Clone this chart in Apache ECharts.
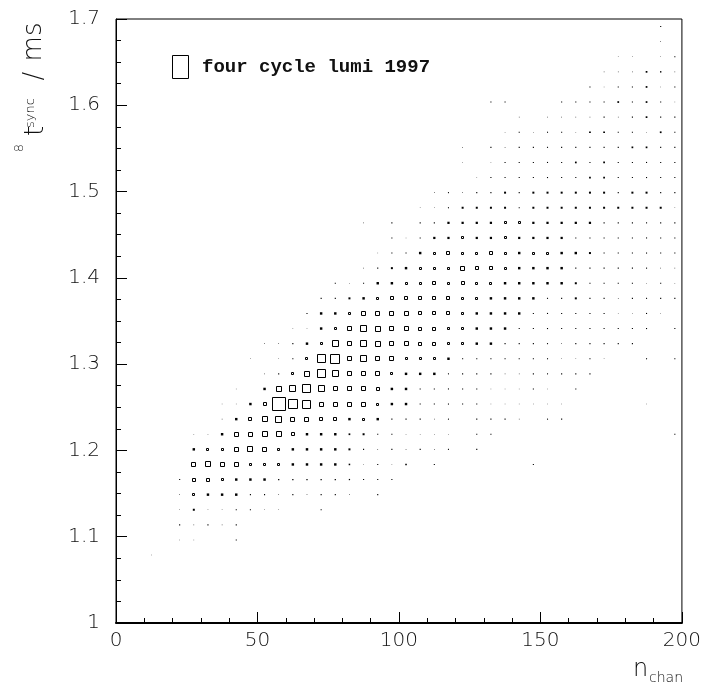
<!DOCTYPE html>
<html>
<head>
<meta charset="utf-8">
<script src="https://cdn.jsdelivr.net/npm/echarts@6/dist/echarts.min.js"></script>
<style>
html,body{margin:0;padding:0;background:#fff;}
#chart{width:704px;height:691px;}
</style>
</head>
<body>
<div id="chart"></div>
<script>
// Histogram binning (n_chan on x, 8t_sync on y)
const nchanLow = 0, nchanHigh = 200, nchanBinWidth = 5;
const tsyncLow = 1.0, tsyncHigh = 1.7, tsyncBinWidth = 0.0175;

// Tick labels
const xTickValues = [0, 50, 100, 150, 200];
const yTickValues = [1, 1.1, 1.2, 1.3, 1.4, 1.5, 1.6, 1.7];

// Legend text
const legendText = 'four cycle lumi 1997';

// Cell contents, one row per t_sync bin (bottom to top).
// rowFirstBin[j] = index of the first n_chan bin listed in rowCounts[j]
const rowFirstBin = [0,0,0,0,2,4,4,4,4,4,5,5,5,7,7,8,10,9,10,12,13,14,15,17,18,19,17,21,22,25,24,24,27,28,26,33,34,35,38,38];
const rowCounts = [
  [], [], [], [],
  [2],
  [2,2,0,0,6],
  [6,2,6,2,6],
  [2,20,2,2,6,6,2,2,0,0,6],
  [2,55,30,30,30,6,6,2,6,2,6,6,2,0,6],
  [6,80,80,60,30,30,30,8,8,8,8,8,8,6,6,6],
  [125,180,110,125,60,60,60,30,30,30,30,12,2,6,2,12,0,6,0,0,0,0,0,0,6],
  [30,60,60,125,170,110,60,30,30,30,30,20,6,2,6,2,6,2,6,0,6],
  [2,2,30,125,125,160,160,80,30,30,30,15,20,6,6,2,2,2,2,0,6,6,0,0,0,0,0,0,0,0,0,0,0,0,6],
  [2,30,80,170,230,125,125,80,70,30,60,30,6,6,6,2,6,0,6,6,6,2,0,6,6],
  [2,2,30,80,1000,500,405,125,125,110,125,60,30,30,6,6,6,6,6,2,2,2,2,2,2,0,0,0,0,0,2],
  [2,0,30,160,245,405,245,125,110,125,80,30,30,6,6,6,6,6,2,2,2,6,2,0,6],
  [2,6,60,160,405,245,150,125,110,60,30,30,30,6,6,6,6,2,2,6,6,6,6,6],
  [2,0,2,6,60,405,500,150,245,110,110,60,60,60,30,6,6,6,6,6,6,6,2,2,6,2,0,0,6,0,6],
  [2,2,6,30,60,245,150,245,180,110,110,80,80,60,60,30,30,6,6,6,6,2,6,6,6,6,6],
  [2,2,30,60,150,245,180,110,110,80,80,60,60,30,30,30,6,6,6,6,6,6,6,6,6,6,0,6],
  [6,30,30,60,110,110,150,110,80,80,80,60,30,30,30,30,6,6,6,6,6,6,2,2,6,2],
  [6,6,20,30,60,80,80,80,80,80,60,60,30,30,30,30,6,6,20,6,6,2,6,6,6,6],
  [6,2,6,30,30,60,60,80,60,80,60,60,30,30,30,30,30,20,6,6,6,6,2,6,2],
  [2,6,20,30,60,60,60,110,80,80,60,30,30,30,30,6,6,6,6,6,6,2,2],
  [2,6,6,30,60,80,60,60,80,60,30,60,60,30,30,20,6,6,6,6,6,6],
  [6,2,6,25,25,55,25,25,55,25,25,25,25,6,6,6,6,6,6,6,6],
  [2,0,6,0,6,6,25,25,25,25,55,55,25,25,25,25,25,6,6,6,6,6,6],
  [2,2,6,20,20,20,20,6,20,20,20,20,20,20,20,20,20,20,2],
  [2,6,2,6,6,20,6,20,20,20,20,20,20,6,20,20,6,6],
  [2,6,6,6,6,6,6,6,15,15,6,6,6,6,6],
  [2,0,2,6,6,6,6,6,15,6,15,6,6,6,6,6],
  [2,0,6,2,6,6,6,6,6,6,6,6,15,15,6,6],
  [2,6,2,6,6,2,15,15,6,6,2,15,6],
  [2,0,2,2,2,2,6,2,6,15,6,6],
  [6,6,0,0,0,6,6,6,6,15,6,15,6,2],
  [6,2,6,6,15,2,6],
  [2,2,2,15,10,2],
  [2,2,0,2,6],
  [2],
  [6]
];

// Build cell list [x centre, y centre, content]
const cells = [];
rowCounts.forEach(function (row, j) {
  row.forEach(function (v, k) {
    if (v > 0) {
      const i = rowFirstBin[j] + k;
      cells.push([nchanLow + (i + 0.5) * nchanBinWidth, tsyncLow + (j + 0.5) * tsyncBinWidth, v]);
    }
  });
});
const maxCount = Math.max.apply(null, cells.map(function (c) { return c[2]; }));

const FONT = 'DejaVu Sans';
const chart = echarts.init(document.getElementById('chart'), null, {renderer: 'canvas'});

const option = {
  backgroundColor: '#ffffff',
  animation: false,
  grid: {left: 116, top: 19, width: 566, height: 604, show: true, borderColor: '#000', borderWidth: 1, backgroundColor: 'transparent'},
  xAxis: {
    type: 'value', min: nchanLow, max: nchanHigh, interval: 50,
    axisLine: {show: true, lineStyle: {color: '#000', width: 2}},
    axisTick: {show: true, inside: true, length: 11, lineStyle: {color: '#000', width: 1}},
    minorTick: {show: true, splitNumber: 5, length: 5, lineStyle: {color: '#000', width: 1}},
    splitLine: {show: false},
    axisLabel: {
      margin: 8, color: '#111', fontFamily: FONT, fontWeight: 200, fontSize: 20,
      formatter: function (v) { return xTickValues.indexOf(v) >= 0 ? String(v) : ''; }
    }
  },
  yAxis: {
    type: 'value', min: tsyncLow, max: tsyncHigh, interval: 0.1,
    axisLine: {show: true, lineStyle: {color: '#000', width: 1}},
    axisTick: {show: true, inside: true, length: 11, lineStyle: {color: '#000', width: 1}},
    minorTick: {show: true, splitNumber: 4, length: 5, lineStyle: {color: '#000', width: 1}},
    splitLine: {show: false},
    axisLabel: {
      margin: 16, color: '#111', fontFamily: FONT, fontWeight: 200, fontSize: 20,
      formatter: function (v) {
        const r = Math.round(v * 10) / 10;
        return yTickValues.indexOf(r) >= 0 ? String(r) : '';
      }
    }
  },
  series: [{
    type: 'custom',
    coordinateSystem: 'cartesian2d',
    silent: true,
    clip: true,
    data: cells,
    encode: {x: 0, y: 1},
    renderItem: function (params, api) {
      const c = api.coord([api.value(0), api.value(1)]);
      const cell = api.size([nchanBinWidth, tsyncBinWidth]);
      const s = Math.min(cell[0], cell[1]) * Math.sqrt(api.value(2) / maxCount);
      if (s < 3) {
        return {type: 'rect', shape: {x: c[0] - s / 2, y: c[1] - s / 2, width: s, height: s}, style: {fill: '#000'}};
      }
      const size = Math.round(s);
      const left = Math.round(c[0] - size / 2);
      const top = Math.round(c[1] - size / 2);
      return {type: 'rect', shape: {x: left + 0.5, y: top + 0.5, width: size - 1, height: size - 1},
              style: {fill: 'none', stroke: '#000', lineWidth: 1}};
    }
  }],
  graphic: [
    {type: 'rect', shape: {x: 172.5, y: 55.5, width: 16, height: 23}, style: {fill: 'none', stroke: '#000', lineWidth: 1}},
    {type: 'text', x: 202, y: 67, style: {text: legendText, fill: '#111', font: 'bold 19px "Liberation Mono", "Courier New", monospace', align: 'left', verticalAlign: 'middle'}},
    // x axis title  n_chan
    {type: 'text', x: 640.5, y: 669.5, style: {text: 'n', fill: '#111', font: '200 24px "DejaVu Sans"', align: 'center', verticalAlign: 'middle'}},
    {type: 'text', x: 666, y: 678, style: {text: 'chan', fill: '#111', font: '200 14px "DejaVu Sans"', align: 'center', verticalAlign: 'middle'}},
    // y axis title  8t^sync / ms (rotated)
    {type: 'text', x: 20, y: 148, rotation: Math.PI / 2, style: {text: '8', fill: '#111', font: '200 13px "DejaVu Sans"', align: 'center', verticalAlign: 'middle'}},
    {type: 'text', x: 36, y: 131, rotation: Math.PI / 2, style: {text: 't', fill: '#111', font: '200 26px "DejaVu Sans"', align: 'center', verticalAlign: 'middle'}},
    {type: 'text', x: 31, y: 113, rotation: Math.PI / 2, style: {text: 'sync', fill: '#111', font: '200 13px "DejaVu Sans"', align: 'center', verticalAlign: 'middle'}},
    {type: 'text', x: 35, y: 76, rotation: Math.PI / 2, style: {text: '/', fill: '#111', font: '200 26px "DejaVu Sans"', align: 'center', verticalAlign: 'middle'}},
    {type: 'text', x: 34, y: 42, rotation: Math.PI / 2, style: {text: 'ms', fill: '#111', font: '200 26px "DejaVu Sans"', align: 'center', verticalAlign: 'middle'}}
  ]
};
chart.setOption(option);
</script>
</body>
</html>
